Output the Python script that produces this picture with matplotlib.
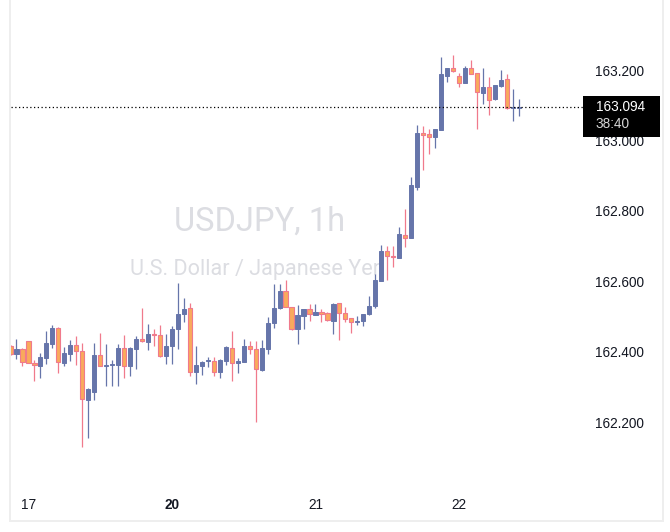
import matplotlib
matplotlib.use("Agg")
import matplotlib.pyplot as plt
from matplotlib.lines import Line2D
from matplotlib.patches import Rectangle
import numpy as np

# ---------------- data (USDJPY 1h candles) ----------------
opens = [162.416, 162.392, 162.407, 162.429, 162.367, 162.360, 162.383, 162.422, 162.466, 162.368,
         162.394, 162.419, 162.402, 162.262, 162.286, 162.390, 162.360, 162.361, 162.362, 162.409,
         162.360, 162.407, 162.435, 162.428, 162.450, 162.447, 162.388, 162.417, 162.464, 162.506,
         162.523, 162.341, 162.360, 162.372, 162.373, 162.341, 162.374, 162.409, 162.367, 162.371,
         162.415, 162.407, 162.347, 162.408, 162.480, 162.523, 162.572, 162.526, 162.463, 162.502,
         162.520, 162.505, 162.512, 162.510, 162.488, 162.537, 162.510, 162.495, 162.485, 162.488,
         162.506, 162.530, 162.601, 162.686, 162.673, 162.667, 162.731, 162.724, 162.868, 163.021,
         163.018, 163.009, 163.030, 163.184, 163.206, 163.182, 163.164, 163.206, 163.191, 163.136,
         163.151, 163.117, 163.155, 163.174, 163.092, 163.093]
highs = [162.419, 162.436, 162.409, 162.430, 162.376, 162.397, 162.459, 162.476, 162.470, 162.413,
         162.433, 162.444, 162.424, 162.297, 162.425, 162.453, 162.422, 162.376, 162.422, 162.447,
         162.414, 162.444, 162.524, 162.478, 162.464, 162.476, 162.450, 162.473, 162.594, 162.552,
         162.538, 162.416, 162.372, 162.384, 162.384, 162.379, 162.416, 162.459, 162.381, 162.436,
         162.430, 162.430, 162.433, 162.499, 162.592, 162.591, 162.603, 162.526, 162.532, 162.521,
         162.535, 162.535, 162.520, 162.513, 162.539, 162.537, 162.527, 162.495, 162.501, 162.507,
         162.558, 162.620, 162.703, 162.700, 162.700, 162.754, 162.805, 162.895, 163.044, 163.041,
         163.032, 163.032, 163.238, 163.206, 163.243, 163.191, 163.211, 163.228, 163.191, 163.206,
         163.180, 163.157, 163.200, 163.189, 163.146, 163.118]
lows = [162.390, 162.380, 162.360, 162.367, 162.317, 162.326, 162.364, 162.411, 162.340, 162.359,
        162.374, 162.363, 162.130, 162.155, 162.263, 162.360, 162.302, 162.302, 162.303, 162.326,
        162.331, 162.351, 162.428, 162.405, 162.417, 162.384, 162.366, 162.366, 162.407, 162.485,
        162.332, 162.309, 162.334, 162.357, 162.332, 162.326, 162.363, 162.317, 162.340, 162.370,
        162.392, 162.201, 162.346, 162.392, 162.468, 162.522, 162.526, 162.462, 162.422, 162.464,
        162.488, 162.503, 162.484, 162.488, 162.451, 162.434, 162.484, 162.454, 162.475, 162.474,
        162.504, 162.524, 162.601, 162.603, 162.641, 162.667, 162.698, 162.724, 162.859, 162.916,
        162.961, 162.979, 163.030, 163.166, 163.194, 163.153, 163.164, 163.189, 163.032, 163.103,
        163.072, 163.114, 163.153, 163.088, 163.056, 163.068]
closes = [162.393, 162.407, 162.371, 162.368, 162.361, 162.385, 162.424, 162.467, 162.370, 162.396,
          162.419, 162.401, 162.265, 162.293, 162.390, 162.360, 162.361, 162.362, 162.409, 162.360,
          162.409, 162.435, 162.429, 162.450, 162.446, 162.387, 162.416, 162.463, 162.507, 162.520,
          162.341, 162.361, 162.370, 162.373, 162.341, 162.376, 162.412, 162.367, 162.373, 162.416,
          162.407, 162.350, 162.409, 162.482, 162.523, 162.572, 162.526, 162.465, 162.503, 162.521,
          162.506, 162.513, 162.506, 162.489, 162.536, 162.509, 162.494, 162.485, 162.486, 162.507,
          162.530, 162.603, 162.686, 162.672, 162.668, 162.734, 162.724, 162.873, 163.021, 163.015,
          163.009, 163.032, 163.189, 163.206, 163.198, 163.164, 163.206, 163.189, 163.137, 163.152,
          163.116, 163.157, 163.172, 163.091, 163.093, 163.094]

day_labels = ["17", "20", "21", "22"]
day_start_index = [3, 27, 51, 75]
price_ticks = [162.2, 162.4, 162.6, 162.8, 163.0, 163.2]
symbol_title = "USDJPY, 1h"
symbol_desc = "U.S. Dollar / Japanese Yen"
countdown = "38:40"

# ---------------- style ----------------
UP = "#6675aa"
DOWN_FILL = "#f9aa5c"
DOWN_EDGE = "#f07a8c"
TEXT = "#131722"
W, H = 670, 532

fig = plt.figure(figsize=(W / 100, H / 100), dpi=100)
fig.patch.set_facecolor("white")

def fx(x):
    return x / W

def fy(y):
    return 1 - y / H

ax_l, ax_r, ax_t, ax_b = 11, 580, 10, 482
ax = fig.add_axes([fx(ax_l), fy(ax_b), fx(ax_r - ax_l), (ax_b - ax_t) / H])
ax.set_facecolor("white")
for s in ax.spines.values():
    s.set_visible(False)

o = np.array(opens); h = np.array(highs); l = np.array(lows); c = np.array(closes)
idx = np.arange(len(o))
up = c >= o

# pixel mapping: 352 px per 1.0 price, 163.2 at y=70
ppu = 352.0
ymax = 163.2 + (70 - ax_t) / ppu
ymin = 163.2 - (ax_b - 70) / ppu
step = 5.98
x0 = 10.5
ax.set_xlim((ax_l - x0) / step, (ax_r - x0) / step)
ax.set_ylim(ymin, ymax)

# watermark
fig.text(fx(260), fy(222), symbol_title, ha="center", va="center", fontsize=23.5,
         color="#dcdde2", family="Roboto", zorder=0.5)
fig.text(fx(257), fy(269), symbol_desc, ha="center", va="center", fontsize=15.6,
         color="#dcdde2", family="Roboto", zorder=0.5)
ax.set_zorder(1)
ax.patch.set_alpha(0)

# wicks
ax.vlines(idx[up], l[up], h[up], color=UP, lw=0.9, zorder=2)
ax.vlines(idx[~up], l[~up], h[~up], color=DOWN_EDGE, lw=0.9, zorder=2)
# bodies
minh = 1.0 / ppu
body_bot = np.minimum(o, c)
body_h = np.maximum(np.abs(c - o), minh)
ax.bar(idx[up], body_h[up], bottom=body_bot[up], width=0.7, color=UP,
       edgecolor=UP, linewidth=0.7, zorder=3)
ax.bar(idx[~up], body_h[~up], bottom=body_bot[~up], width=0.7, color=DOWN_FILL,
       edgecolor=DOWN_EDGE, linewidth=0.8, zorder=3)

# last price dotted line
last = closes[-1]
xl = ax.get_xlim()
ax.plot([xl[0], (583 - x0) / step], [last, last], color="black", lw=0.9,
        linestyle=(0, (1, 2)), zorder=4, clip_on=False)

# axes ticks
ax.yaxis.tick_right()
ax.set_yticks(price_ticks)
ax.set_yticklabels([f"{t:.3f}" for t in price_ticks])
ax.tick_params(axis="y", length=0, pad=10.8, labelsize=9.8, labelcolor=TEXT)
ax.set_xticks(day_start_index)
ax.set_xticklabels(day_labels)
ax.tick_params(axis="x", length=0, pad=11.5, labelsize=9.8, labelcolor=TEXT)
for lab in ax.get_yticklabels() + ax.get_xticklabels():
    lab.set_family("Liberation Sans")
ax.get_xticklabels()[1].set_fontweight("bold")

# price box
fig.canvas.draw()
py = H - ax.transData.transform((0, last))[1]
box = Rectangle((fx(583), fy(py + 30)), fx(660 - 583), (41.5) / H,
                transform=fig.transFigure, facecolor="black", edgecolor="none", zorder=5)
fig.add_artist(box)
fig.text(fx(596), fy(py), f"{last:.3f}", ha="left", va="center", fontsize=9.8,
         color="white", family="Liberation Sans", zorder=6)
fig.text(fx(596), fy(py + 17), countdown, ha="left", va="center", fontsize=9.8,
         color="#d6d6d6", family="Liberation Sans", zorder=6)

# light frame
fc = "#eeeeee"
fig.add_artist(Line2D([fx(10), fx(10)], [fy(0), fy(521)], transform=fig.transFigure, color=fc, lw=1.4))
fig.add_artist(Line2D([fx(663), fx(663)], [fy(0), fy(521)], transform=fig.transFigure, color=fc, lw=1.4))
fig.add_artist(Line2D([fx(10), fx(663)], [fy(521), fy(521)], transform=fig.transFigure, color=fc, lw=1.4))

fig.savefig("out.png", dpi=100, facecolor="white")
